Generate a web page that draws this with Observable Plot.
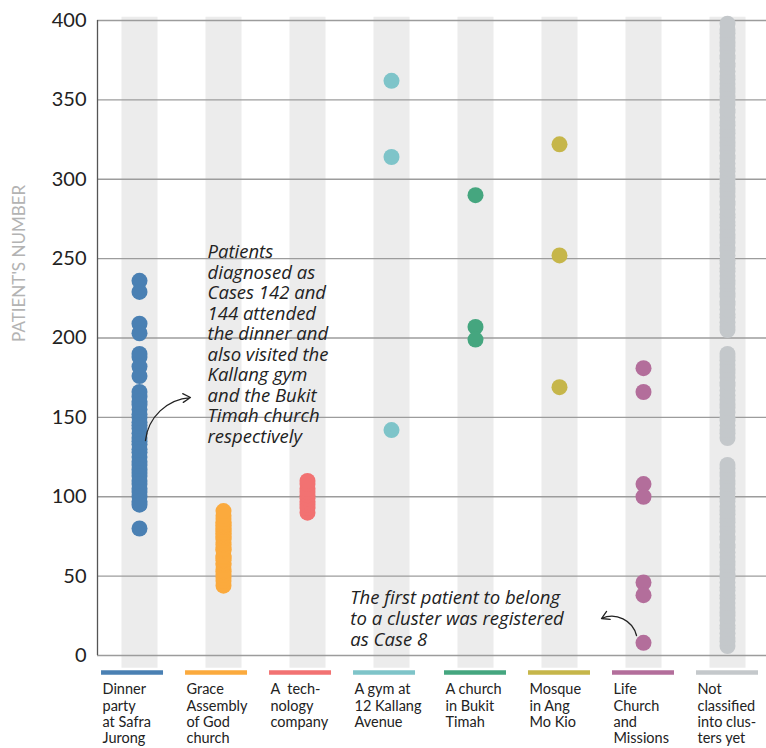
<!DOCTYPE html>
<html><head><meta charset="utf-8">
<script src="https://cdn.jsdelivr.net/npm/d3@7"></script>
<script src="https://cdn.jsdelivr.net/npm/@observablehq/plot@0.6"></script>
<style>body{margin:0;background:#fff;}</style>
</head><body><div id="chart"></div>
<script>
const categories = [
  "Dinner\nparty\nat Safra\nJurong",
  "Grace\nAssembly\nof God\nchurch",
  "A  tech-\nnology\ncompany",
  "A gym at\n12 Kallang\nAvenue",
  "A church\nin Bukit\nTimah",
  "Mosque\nin Ang\nMo Kio",
  "Life\nChurch\nand\nMissions",
  "Not\nclassified\ninto clus-\nters yet"
];
const colors = ["#4a80b3", "#fbaa3d", "#f27272", "#7ec4c9", "#45a67f", "#c6b64a", "#b36e9b", "#c4c8cb"];

const dinner = [236, 229, 209, 203, 190, 188, 182, 176, 166, 163, 160, 158, 155, 152, 150, 147, 145, 143, 140, 137, 135, 133, 130, 128, 125, 122, 120, 117, 115, 113, 110, 108, 105, 103, 100, 97, 95, 80];
const grace = [44, 47, 49, 51, 53, 54, 57, 58, 60, 61, 62, 63, 66, 67, 68, 70, 71, 73, 74, 75, 76, 77, 78, 79, 80, 81, 82, 83, 84, 86, 88, 91];
const tech = [90, 93, 95, 97, 99, 101, 103, 105, 108, 110];
const gym = [362, 314, 142];
const bukitTimah = [290, 207, 199];
const mosque = [322, 252, 169];
const lifeChurch = [181, 166, 108, 100, 46, 38, 8];
const unclassified = [
  6, 9, 11, 14, 17, 19, 22, 25, 27, 30, 33, 36, 38, 41, 43, 46, 49, 51, 54, 57, 59, 62, 65, 68, 70, 73, 75, 78, 81, 84, 86, 89, 91, 94, 97, 99, 102, 105, 108, 110, 113, 115, 118, 120,
  137, 140, 142, 145, 148, 150, 153, 156, 158, 161, 164, 167, 170, 172, 175, 178, 180, 183, 186, 188, 190,
  205, 207, 210, 213, 215, 218, 221, 223, 226, 228, 231, 234, 236, 239, 242, 244, 247, 249, 252, 255, 257, 260, 263, 265, 268, 271, 273, 276, 278, 281, 284, 286, 289, 292, 294, 297, 300, 302, 305, 307, 310, 313, 315, 318, 321, 323, 326, 329, 331, 334, 336, 339, 342, 344, 347, 350, 352, 355, 357, 360, 363, 365, 368, 371, 373, 376, 378, 381, 384, 386, 389, 392, 394, 398
];
const seriesValues = [dinner, grace, tech, gym, bukitTimah, mosque, lifeChurch, unclassified];
const yTicks = [0, 50, 100, 150, 200, 250, 300, 350, 400];
const yLabel = "PATIENT'S NUMBER";
const note1 = "Patients\ndiagnosed as\nCases 142 and\n144 attended\nthe dinner and\nalso visited the\nKallang gym\nand the Bukit\nTimah church\nrespectively";
const note2 = "The first patient to belong\nto a cluster was registered\nas Case 8";

const idx = categories.map((c, i) => i);
const points = seriesValues.flatMap((vals, i) => vals.map(v => ({i, v})));

const plot = Plot.plot({
  width: 766,
  height: 748,
  marginTop: 20,
  marginBottom: 93,
  marginLeft: 97,
  marginRight: 0,
  x: {domain: [-0.5, 7.5], range: [97, 769], axis: null},
  y: {domain: [0, 400], axis: null},
  color: {type: "identity"},
  style: {fontFamily: "Lato", background: "white", overflow: "visible"},
  marks: [
    Plot.ruleX(idx, {x: d => d, y1: -8, y2: 402, stroke: "#ececec", strokeWidth: 36}),
    Plot.ruleY(yTicks, {y: d => d, x1: -0.5, x2: 7.5, stroke: "#9c9c9c", strokeWidth: 1.3}),
    Plot.ruleX([-0.5], {x: d => d, y1: 0, y2: 400, stroke: "#555", strokeWidth: 1.3}),
    Plot.text(yTicks, {x: -0.5, y: d => d, text: d => String(d), dx: -11, textAnchor: "end", fontSize: 20, fill: "#222"}),
    Plot.text([yLabel], {x: -1.43, y: 247, text: d => d, rotate: -90, textAnchor: "middle", fontSize: 17, fill: "#b3b3b3"}),
    Plot.dot(points, {x: "i", y: "v", r: 8, fill: d => colors[d.i]}),
    Plot.text([note1], {x: 0.81, y: 259.5, text: d => d, lineAnchor: "top", textAnchor: "start", fontFamily: "Open Sans", fontSize: 18.5, fontStyle: "italic", lineHeight: 1.11, fill: "#222"}),
    Plot.text([note2], {x: 2.51, y: 41.6, text: d => d, lineAnchor: "top", textAnchor: "start", fontFamily: "Open Sans", fontSize: 18.5, fontStyle: "italic", lineHeight: 1.13, fill: "#222"}),
    Plot.arrow([{x1: 0.071, y1: 135.4, x2: 0.607, y2: 162.5}], {x1: "x1", y1: "y1", x2: "x2", y2: "y2", bend: 40, stroke: "#222", strokeWidth: 1.3, headLength: 10}),
    Plot.arrow([{x1: 5.917, y1: 12.6, x2: 5.5, y2: 23.3}], {x1: "x1", y1: "y1", x2: "x2", y2: "y2", bend: -50, stroke: "#222", strokeWidth: 1.3, headLength: 10}),
    Plot.ruleY(idx, {filter: d => d < 4, y: -10.7, x1: d => d - 0.452, x2: d => d + 0.286, stroke: d => colors[d], strokeWidth: 4.5}),
    Plot.ruleY(idx, {filter: d => d >= 4, y: -10.7, x1: d => d - 0.369, x2: d => d + 0.369, stroke: d => colors[d], strokeWidth: 4.5}),
    Plot.text(idx, {filter: d => d < 4, x: d => d, dx: -37, y: -17, text: d => categories[d], lineAnchor: "top", textAnchor: "start", fontSize: 14.5, lineHeight: 1.13, fill: "#222"}),
    Plot.text(idx, {filter: d => d >= 4, x: d => d, dx: -30, y: -17, text: d => categories[d], lineAnchor: "top", textAnchor: "start", fontSize: 14.5, lineHeight: 1.13, fill: "#222"})
  ]
});
document.getElementById("chart").appendChild(plot);
</script>
</body></html>
